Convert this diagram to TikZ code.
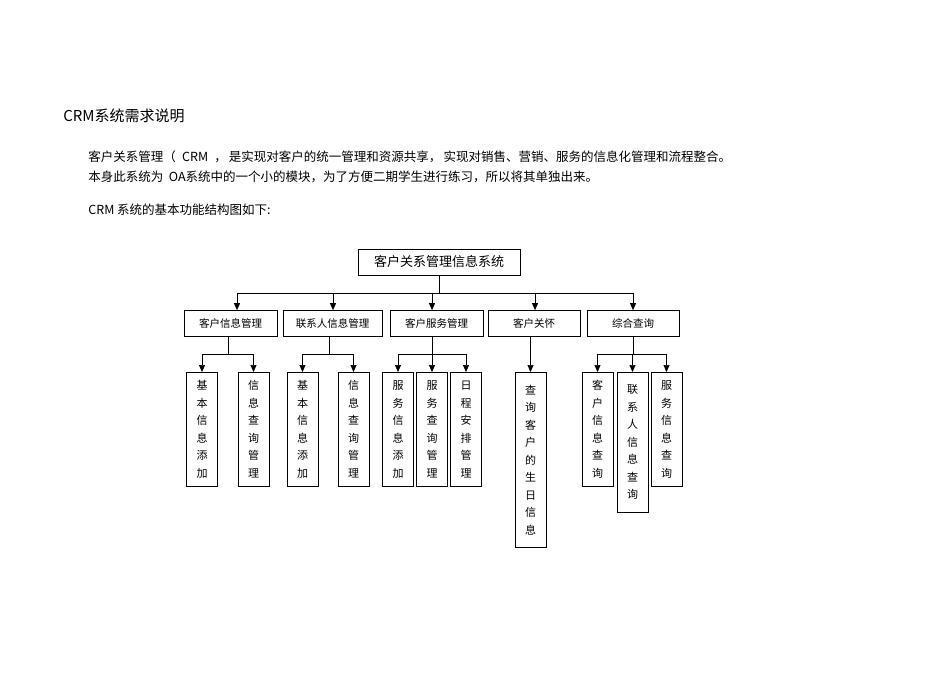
\documentclass[tikz,border=0pt]{standalone}
\usepackage{fontspec}
\setmainfont{Noto Sans CJK SC}
\usetikzlibrary{arrows.meta}

\begin{document}
\begin{tikzpicture}[x=1pt,y=-1pt,
	line width=0.7pt,
	plain/.style={anchor=west,inner sep=0pt,font=\fontsize{12.5}{15}\selectfont},
	toprect/.style={draw,inner sep=0pt,minimum width=162pt,minimum height=26pt,font=\fontsize{13}{15}\selectfont},
	midrect/.style={draw,inner sep=0pt,minimum height=26pt,font=\fontsize{10.5}{12}\selectfont},
	colrect/.style={draw,inner sep=0pt,anchor=north,minimum width=31pt,align=center,font=\fontsize{11}{17.5}\selectfont},
	arr/.style={-{Triangle[length=7pt,width=6pt]}}]
				\useasboundingbox (0,0) rectangle (950,672);

				% heading and text
				\draw (63,116) node[plain,font=\fontsize{15}{17}\selectfont] (title) {CRM系统需求说明};
				\draw (88,157) node[plain] (line1) {客户关系管理（\enspace CRM\enspace ，\,是实现对客户的统一管理和资源共享，\,实现对销售、营销、服务的信息化管理和流程整合。};
				\draw (88,177) node[plain] (line2) {本身此系统为 \ OA系统中的一个小的模块，为了方便二期学生进行练习，所以将其单独出来。};
				\draw (88,210) node[plain] (line3) {CRM 系统的基本功能结构图如下:};

				% top
				\draw (439,262) node[toprect] (crm) {客户关系管理信息系统};

				% second level
				\draw (230.5,323.5) node[midrect,minimum width=93pt] (cust) {客户信息管理};
				\draw (332.5,323.5) node[midrect,minimum width=99pt] (cont) {联系人信息管理};
				\draw (436.5,323.5) node[midrect,minimum width=93pt] (serv) {客户服务管理};
				\draw (534,323.5) node[midrect,minimum width=92pt] (care) {客户关怀};
				\draw (633,323.5) node[midrect,minimum width=92pt] (query) {综合查询};

				% third level
				\draw (202,372) node[colrect,minimum height=114pt] (custadd) {基\\本\\信\\息\\添\\加};
				\draw (253.5,372) node[colrect,minimum height=114pt] (custfind) {信\\息\\查\\询\\管\\理};
				\draw (302.5,372) node[colrect,minimum height=114pt] (contadd) {基\\本\\信\\息\\添\\加};
				\draw (353.5,372) node[colrect,minimum height=114pt] (contfind) {信\\息\\查\\询\\管\\理};
				\draw (398,372) node[colrect,minimum height=114pt] (servadd) {服\\务\\信\\息\\添\\加};
				\draw (432,372) node[colrect,minimum height=114pt] (servfind) {服\\务\\查\\询\\管\\理};
				\draw (466,372) node[colrect,minimum height=114pt] (plan) {日\\程\\安\\排\\管\\理};
				\draw (530.5,372) node[colrect,minimum height=175pt] (bday) {查\\询\\客\\户\\的\\生\\日\\信\\息};
				\draw (597.5,372) node[colrect,minimum height=114pt] (qcust) {客\\户\\信\\息\\查\\询};
				\draw (632.5,372) node[colrect,minimum height=140pt] (qcont) {联\\系\\人\\信\\息\\查\\询};
				\draw (666.5,372) node[colrect,minimum height=114pt] (qserv) {服\\务\\信\\息\\查\\询};

				% bus lines
				\coordinate (b1) at (237,293);
				\coordinate (b2) at (333,293);
				\coordinate (b3) at (432,293);
				\coordinate (b4) at (535,293);
				\coordinate (b5) at (633,293);
				\coordinate (s1) at (228,354);
				\coordinate (s2) at (329,354);
				\coordinate (s3) at (432,354);
				\coordinate (s5) at (633,354);

				\draw (crm.south) -- (crm.south |- b1);
				\draw (b1) -- (b5);
				\draw[arr] (b1) -- (b1 |- cust.north);
				\draw[arr] (b2) -- (b2 |- cont.north);
				\draw[arr] (b3) -- (b3 |- serv.north);
				\draw[arr] (b4) -- (b4 |- care.north);
				\draw[arr] (b5) -- (b5 |- query.north);

				\draw (s1 |- cust.south) -- (s1);
				\draw (custadd.north |- s1) -- (custfind.north |- s1);
				\draw[arr] (custadd.north |- s1) -- (custadd.north);
				\draw[arr] (custfind.north |- s1) -- (custfind.north);

				\draw (s2 |- cont.south) -- (s2);
				\draw (contadd.north |- s2) -- (contfind.north |- s2);
				\draw[arr] (contadd.north |- s2) -- (contadd.north);
				\draw[arr] (contfind.north |- s2) -- (contfind.north);

				\draw (s3 |- serv.south) -- (s3);
				\draw (servadd.north |- s3) -- (plan.north |- s3);
				\draw[arr] (servadd.north |- s3) -- (servadd.north);
				\draw[arr] (servfind.north |- s3) -- (servfind.north);
				\draw[arr] (plan.north |- s3) -- (plan.north);

				\draw[arr] (bday.north |- care.south) -- (bday.north);

				\draw (s5 |- query.south) -- (s5);
				\draw (qcust.north |- s5) -- (qserv.north |- s5);
				\draw[arr] (qcust.north |- s5) -- (qcust.north);
				\draw[arr] (qcont.north |- s5) -- (qcont.north);
				\draw[arr] (qserv.north |- s5) -- (qserv.north);
			\end{tikzpicture}
\end{document}
